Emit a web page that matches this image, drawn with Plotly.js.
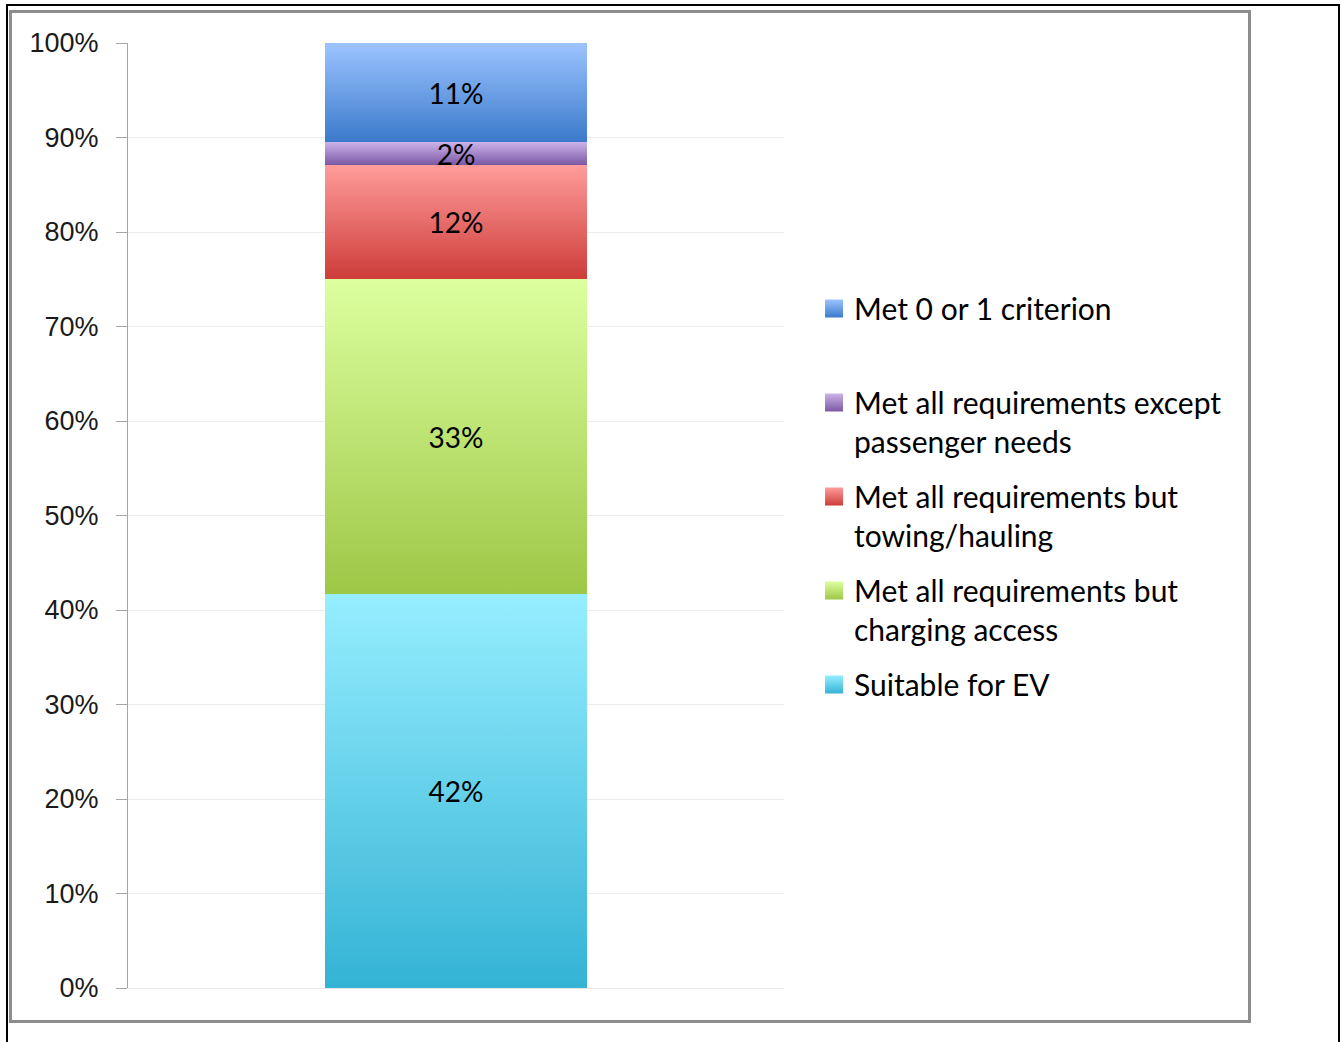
<!DOCTYPE html>
<html>
<head>
<meta charset="utf-8">
<script src="https://cdn.plot.ly/plotly-3.0.1.min.js"></script>
<style>
  html, body { margin: 0; padding: 0; background: #fff; }
  #wrap { position: relative; width: 1340px; height: 1042px; overflow: hidden; background: #fff; }
  .blk { position: absolute; background: #000; }
  #box { position: absolute; left: 9px; top: 10px; width: 1236px; height: 1007px; border: 3px solid #8c8c8c; }
  #chart { position: absolute; left: 0; top: 0; width: 1340px; height: 1042px; }
</style>
</head>
<body>
<div id="wrap">
  <div class="blk" style="left:6px;top:4px;width:1334px;height:2px;"></div>
  <div class="blk" style="left:6px;top:4px;width:2px;height:1038px;"></div>
  <div class="blk" style="left:1338px;top:4px;width:2px;height:1038px;"></div>
  <div id="box"></div>
  <div id="chart"></div>
</div>
<script>
// ---- data (bottom segment first) ----
const categories = ['All vehicles'];
const seriesNames = [
  'Suitable for EV',
  'Met all requirements but<br>charging access',
  'Met all requirements but<br>towing/hauling',
  'Met all requirements except<br>passenger needs',
  'Met 0 or 1 criterion<br> '
];
const shares = [41.7, 33.3, 12.1, 2.4, 10.5];
const shareLabels = ['42%', '33%', '12%', '2%', '11%'];
const yTickValues = [0, 10, 20, 30, 40, 50, 60, 70, 80, 90, 100];
const yTickLabels = ['0%', '10%', '20%', '30%', '40%', '50%', '60%', '70%', '80%', '90%', '100%'];

// ---- styles ----
const gradTop    = ['#96eeff', '#ddff9f', '#ff9c9a', '#cbb3ea', '#9cc4ff'];
const gradBottom = ['#34b3d5', '#9dc746', '#cd3c39', '#7b58a4', '#3b7acb'];
const midColors  = ['#5fd0ea', '#bde274', '#e86a67', '#a385c7', '#6b9fe4'];

const traces = seriesNames.map((name, i) => ({
  type: 'bar',
  name: name,
  x: categories,
  y: [shares[i]],
  text: [shareLabels[i]],
  texttemplate: '%{text}',
  textposition: 'inside',
  insidetextanchor: 'middle',
  constraintext: 'none',
  textfont: { family: 'Lato, sans-serif', size: 28, color: '#000' },
  marker: { color: midColors[i], line: { width: 0 } },
  width: 0.4,
  legendgroup: 'g' + i,
  legendrank: 100 - i,
  hoverinfo: 'none'
}));

const layout = {
  width: 1340,
  height: 1042,
  paper_bgcolor: 'rgba(0,0,0,0)',
  plot_bgcolor: 'rgba(0,0,0,0)',
  margin: { l: 128, r: 556, t: 43, b: 54 },
  barmode: 'stack',
  showlegend: true,
  legend: {
    x: 1.0458, xanchor: 'left',
    y: 0.7465, yanchor: 'top',
    traceorder: 'grouped',
    tracegroupgap: 13,
    valign: 'top',
    font: { family: 'Lato, sans-serif', size: 30, color: '#000' },
    bgcolor: 'rgba(0,0,0,0)'
  },
  xaxis: {
    type: 'category',
    range: [-0.5, 0.5],
    showticklabels: false,
    showgrid: false,
    zeroline: false,
    showline: true,
    linecolor: '#e8e8e8',
    linewidth: 1,
    ticks: ''
  },
  yaxis: {
    range: [0, 100],
    tickmode: 'array',
    tickvals: yTickValues,
    ticktext: yTickLabels,
    showgrid: true,
    gridcolor: '#ececec',
    gridwidth: 1,
    zeroline: false,
    showline: true,
    linecolor: '#a6a6a6',
    linewidth: 1,
    ticks: 'outside',
    ticklen: 11,
    tickcolor: '#a6a6a6',
    ticklabelstandoff: 12,
    tickfont: { family: '"Liberation Sans", Arial, sans-serif', size: 27, color: '#1a1a1a' }
  }
};

function traceIndexOf(el) {
  const d = el.__data__;
  if (!d) return null;
  if (d.trace && typeof d.trace.index === 'number') return d.trace.index;
  if (Array.isArray(d)) {
    const a = d[0];
    if (a && a.trace && typeof a.trace.index === 'number') return a.trace.index;
    if (Array.isArray(a) && a[0] && a[0].trace) return a[0].trace.index;
  }
  return null;
}

function applyGradients(gd) {
  const svg = gd.querySelector('.main-svg');
  const ns = 'http://www.w3.org/2000/svg';
  let defs = svg.querySelector('defs');
  if (!defs) { defs = document.createElementNS(ns, 'defs'); svg.insertBefore(defs, svg.firstChild); }
  gradTop.forEach((c, i) => {
    const g = document.createElementNS(ns, 'linearGradient');
    g.setAttribute('id', 'segGrad' + i);
    g.setAttribute('x1', '0'); g.setAttribute('y1', '0');
    g.setAttribute('x2', '0'); g.setAttribute('y2', '1');
    const s1 = document.createElementNS(ns, 'stop');
    s1.setAttribute('offset', '0'); s1.setAttribute('stop-color', gradTop[i]);
    const s2 = document.createElementNS(ns, 'stop');
    s2.setAttribute('offset', '1'); s2.setAttribute('stop-color', gradBottom[i]);
    g.appendChild(s1); g.appendChild(s2);
    defs.appendChild(g);
  });
  gd.querySelectorAll('.barlayer .trace').forEach((t, k) => {
    let idx = traceIndexOf(t);
    if (idx === null) idx = k;
    t.querySelectorAll('.point path').forEach(p => { p.style.fill = 'url(#segGrad' + idx + ')'; });
  });
  gd.querySelectorAll('.legend .traces').forEach((t, k) => {
    let idx = traceIndexOf(t);
    if (idx === null) idx = k;
    t.querySelectorAll('path.legendbar, .legendpoints path').forEach(p => {
      p.setAttribute('d', 'M9,9H-9V-9H9Z');
      p.style.fill = 'url(#segGrad' + idx + ')';
      p.style.stroke = 'none';
    });
  });
}

Plotly.newPlot('chart', traces, layout, { staticPlot: true, displayModeBar: false })
  .then(gd => applyGradients(gd));
</script>
</body>
</html>
